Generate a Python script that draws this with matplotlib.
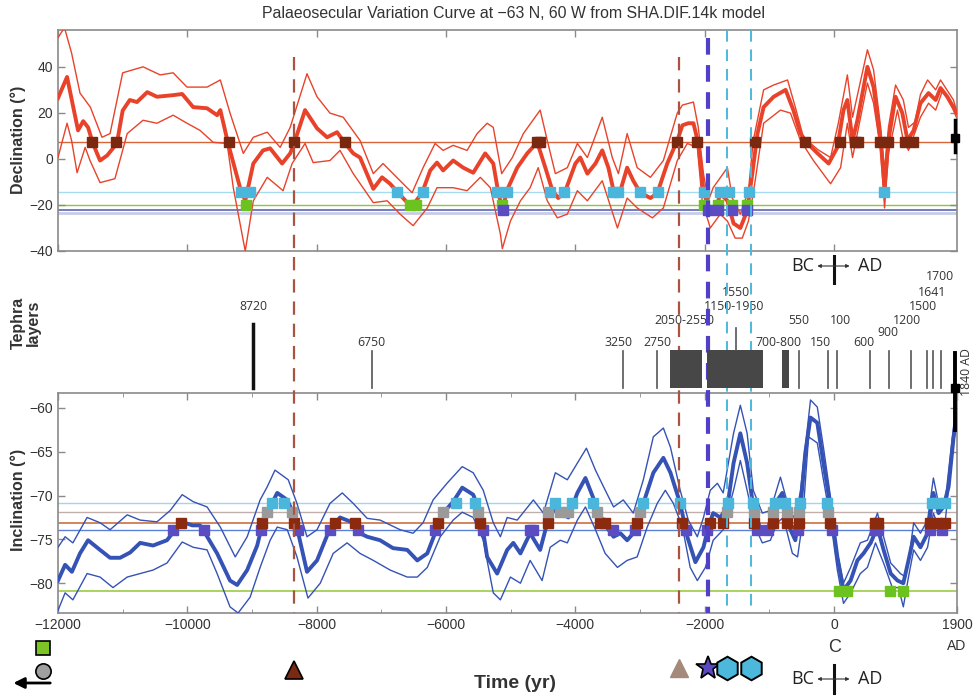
import matplotlib
matplotlib.use("Agg")
import matplotlib.pyplot as plt

plt.rcParams['font.family'] = ['Liberation Sans', 'DejaVu Sans']

# ---------------- data ----------------
dec_mean = [(-12000, 26.4), (-11860, 35.6), (-11690, 12.4), (-11610, 16.4), (-11535, 13.7), (-11460, 6.7),
            (-11350, -0.7), (-11240, 1.5), (-11090, 6.7), (-11000, 21), (-10890, 25.6), (-10780, 24.7),
            (-10620, 29), (-10470, 27), (-10220, 27.7), (-10080, 28.2), (-9910, 22.5), (-9695, 22),
            (-9540, 19), (-9490, 21.2), (-9370, 6.7), (-9185, -12.5), (-9105, -18.2), (-8980, -2),
            (-8830, 3.7), (-8720, 4.6), (-8535, -2), (-8410, 2.4), (-8350, 6.7), (-8180, 21.2),
            (-7995, 13.3), (-7840, 9.4), (-7685, 11.6), (-7560, 6.7), (-7435, 2.4), (-7330, 0.6),
            (-7125, -13), (-6990, -8), (-6865, -10.8), (-6740, -14.7), (-6600, -19), (-6510, -20),
            (-6370, -14.7), (-6245, -5), (-6140, -1.6), (-6045, -5), (-5890, -0.7), (-5735, -3.8),
            (-5580, -6), (-5395, 2.4), (-5270, -2), (-5190, -15), (-5130, -21.5), (-5040, -12.5),
            (-4900, -3.8), (-4745, 2.4), (-4590, 7.2), (-4465, -3.8), (-4355, -13.8), (-4265, -17),
            (-4155, -13.8), (-4000, -2), (-3925, 0.6), (-3815, -6.4), (-3690, -2), (-3585, 3.7),
            (-3490, -3.8), (-3410, -13.8), (-3305, -13.8), (-3200, -3.8), (-3105, -9.5), (-2995, -14.7),
            (-2840, -17), (-2735, -15), (-2580, -2), (-2425, 8), (-2345, 14.6), (-2255, 15.5),
            (-2175, 15.5), (-2100, 6.7), (-2020, -13.8), (-1915, -24), (-1835, -22.6), (-1760, -15),
            (-1650, -18.2), (-1555, -28), (-1450, -30), (-1345, -22.6), (-1265, -6.4), (-1185, 11),
            (-1090, 22.5), (-935, 27), (-750, 30), (-630, 21.2), (-520, 11), (-410, 6.7), (-255, 2.4),
            (-85, -2), (50, 5), (145, 21.2), (205, 25.6), (285, 8), (360, 16.8), (515, 40), (610, 31.2),
            (720, 8), (780, -12.5), (840, 8), (950, 27), (1055, 19.9), (1135, 8), (1230, 12.4),
            (1335, 24.2), (1460, 28.6), (1570, 25.6), (1645, 30.8), (1750, 27), (1845, 22.5), (1890, 19.9)]

dec_upper = [(-12000, 52.7), (-11900, 57), (-11790, 46), (-11660, 28.6), (-11500, 22.5), (-11320, 9.4),
             (-11195, 11), (-11000, 37.4), (-10685, 40), (-10420, 36.5), (-10220, 37.4), (-10005, 31.2),
             (-9695, 31.2), (-9490, 34.3), (-9340, 19.9), (-9135, 2.4), (-8980, 9.4), (-8765, 11.6),
             (-8565, 5), (-8410, 13.7), (-8150, 37), (-7995, 27), (-7795, 19.9), (-7590, 18.1),
             (-7330, 8), (-7125, -6.4), (-6975, -2), (-6710, -9.5), (-6525, -14.7), (-6355, -3.8),
             (-6170, 6.7), (-6045, 3.7), (-5890, 5.9), (-5675, 3.7), (-5520, 11), (-5365, 15.5),
             (-5270, 13.7), (-5140, -6.4), (-4975, 0.6), (-4805, 11), (-4545, 21.2), (-4435, 8),
             (-4310, -6.4), (-4125, -3.8), (-3970, 6.7), (-3815, 0.6), (-3585, 18.1), (-3430, 0.6),
             (-3335, -6.4), (-3200, 11), (-3045, -3.8), (-2840, -8), (-2640, -0.7), (-2425, 19.9),
             (-2345, 23.4), (-2175, 24.7), (-2100, 13.7), (-2020, -6.4), (-1945, -18.2), (-1870, -12.5),
             (-1650, -3.8), (-1575, -17), (-1450, -24), (-1325, -13.8), (-1250, 8), (-1090, 30),
             (-935, 32.1), (-720, 34.3), (-600, 22.5), (-475, 9.4), (-250, 4.0), (-55, 0.6), (65, 15.5),
             (205, 36.5), (285, 18.1), (515, 47.4), (610, 38.7), (720, 13.7), (780, -5), (840, 13.7),
             (950, 32.1), (1070, 25.6), (1150, 13.7), (1250, 16), (1335, 28), (1445, 34.3), (1570, 30),
             (1645, 34.3), (1845, 25.6), (1890, 21.2)]

dec_lower = [(-12000, 0.6), (-11860, 15.5), (-11790, 8), (-11705, -6), (-11580, 5), (-11505, -0.7),
             (-11350, -10.3), (-11120, -8.6), (-10930, 11), (-10685, 16.8), (-10470, 15.5), (-10220, 19),
             (-10005, 15.5), (-9805, 12.4), (-9600, 7.2), (-9385, 6.7), (-9290, -12.5), (-9105, -40),
             (-8980, -18.2), (-8765, -8), (-8520, -13.8), (-8380, -2), (-8180, 6.7), (-8055, -1.6),
             (-7795, -0.7), (-7640, 3.7), (-7435, -6.4), (-7125, -19), (-6910, -18.2), (-6710, -24),
             (-6510, -29), (-6290, -21.3), (-6140, -12.5), (-5890, -12.5), (-5675, -13.8), (-5470, -8),
             (-5315, -12.5), (-5160, -32.6), (-5130, -39), (-5005, -27), (-4850, -18.2), (-4700, -12.5),
             (-4575, -3.8), (-4435, -18.2), (-4280, -25.6), (-4125, -24), (-3970, -13.8), (-3815, -18.2),
             (-3585, -9.5), (-3350, -30), (-3200, -17), (-3045, -21.3), (-2810, -25.6), (-2640, -21.3),
             (-2425, -0.7), (-2270, 6.7), (-2115, 5), (-2040, -18.2), (-1915, -30), (-1760, -24),
             (-1650, -27), (-1530, -34.4), (-1420, -34.4), (-1325, -27), (-1250, -15), (-1090, 15.5),
             (-830, 21.2), (-675, 19.9), (-520, 8), (-320, -0.7), (-55, -10.8), (100, -3.8), (205, 15.5),
             (285, 0.6), (515, 33), (610, 24.2), (720, 3.7), (780, -21.3), (840, 2.4), (980, 21.2),
             (1070, 8), (1150, 3.7), (1335, 18.1), (1460, 24.2), (1570, 21.2), (1680, 30), (1845, 21.2),
             (1890, 18.1)]

inc_mean = [(-12000, -79.7), (-11890, -77.9), (-11785, -78.7), (-11660, -76.6), (-11535, -75.1),
            (-11350, -76.2), (-11195, -77.1), (-11040, -77.1), (-10885, -76.5), (-10730, -75.4),
            (-10530, -75.7), (-10315, -75.1), (-10220, -74.2), (-10080, -73), (-9925, -73.4),
            (-9805, -73.4), (-9725, -74.3), (-9540, -76.6), (-9340, -79.7), (-9230, -80.2),
            (-9075, -78.5), (-8920, -75.7), (-8830, -73), (-8750, -71.7), (-8610, -69.7), (-8455, -70.5),
            (-8365, -72), (-8285, -74.3), (-8150, -78.7), (-7995, -77.4), (-7825, -74.3), (-7640, -72.5),
            (-7435, -73.1), (-7330, -74.3), (-7220, -74.7), (-7020, -75.1), (-6820, -76), (-6600, -76.2),
            (-6445, -77.4), (-6290, -76.6), (-6170, -74.3), (-6045, -72), (-5890, -70.7), (-5750, -69.1),
            (-5580, -69.9), (-5470, -72), (-5365, -77), (-5210, -78.9), (-5055, -76.2), (-4960, -75.4),
            (-4850, -76.6), (-4700, -74.3), (-4545, -76.2), (-4435, -73.1), (-4310, -71.3), (-4205, -72),
            (-4110, -72.5), (-3970, -69.7), (-3845, -68), (-3690, -70.9), (-3565, -73.1), (-3410, -74.7),
            (-3305, -74.3), (-3200, -75.1), (-3105, -74.3), (-3030, -72.8), (-2950, -70.9),
            (-2795, -67.4), (-2640, -65.7), (-2530, -67.4), (-2380, -70.9), (-2270, -74.7),
            (-2145, -77.6), (-2020, -75.9), (-1945, -73.6), (-1870, -72), (-1760, -72.5), (-1650, -71.3),
            (-1555, -66.3), (-1450, -62.9), (-1345, -66.3), (-1250, -71.3), (-1140, -73.9),
            (-1015, -73.6), (-910, -70.9), (-800, -69.7), (-675, -73.9), (-600, -75.1), (-520, -71.3),
            (-445, -65.1), (-365, -61.1), (-260, -61.7), (-165, -66.3), (-55, -71.3), (50, -77),
            (145, -80.8), (255, -79.7), (360, -77.4), (455, -76.6), (565, -75.4), (670, -73.6),
            (765, -76.2), (875, -78.9), (980, -79.7), (1070, -80), (1150, -77.4), (1230, -74.7),
            (1335, -75.9), (1445, -74.3), (1535, -69.7), (1615, -72), (1690, -71.3), (1770, -69),
            (1845, -63.5), (1890, -61.2)]

inc_upper = [(-12000, -75.9), (-11890, -74.7), (-11770, -75.4), (-11550, -72.5), (-11350, -73.1),
             (-11195, -73.9), (-10930, -72.2), (-10730, -72.8), (-10470, -73), (-10265, -71.7),
             (-10080, -69.9), (-9910, -70.7), (-9695, -71.3), (-9490, -73.6), (-9260, -77), (-9075, -74.7),
             (-8875, -70.5), (-8765, -69), (-8645, -67.1), (-8440, -68.2), (-8305, -70.9), (-8150, -74.7),
             (-7995, -73.9), (-7795, -70.9), (-7605, -69.7), (-7435, -70.9), (-7220, -72.6),
             (-7020, -72.8), (-6710, -73.9), (-6510, -74.3), (-6355, -73.1), (-6200, -70.5),
             (-5985, -68.6), (-5750, -66.7), (-5580, -67.4), (-5425, -69.4), (-5270, -73.1),
             (-5160, -74.7), (-5055, -72.5), (-4900, -72.8), (-4650, -70.5), (-4495, -72), (-4310, -67.4),
             (-4125, -68.2), (-3970, -66.3), (-3830, -64.6), (-3690, -67.1), (-3565, -69), (-3410, -71.3),
             (-3260, -70.5), (-3105, -72), (-2950, -68.2), (-2795, -63.3), (-2640, -62.3), (-2530, -64.5),
             (-2380, -69.4), (-2255, -72.8), (-2115, -74.7), (-2020, -72.5), (-1915, -69.4),
             (-1805, -68.6), (-1715, -69.7), (-1555, -62.9), (-1450, -59.7), (-1345, -62.9),
             (-1250, -69.4), (-1110, -72), (-985, -71.7), (-830, -67.9), (-705, -71.3), (-600, -72.8),
             (-520, -69.4), (-365, -59.1), (-260, -59.9), (-165, -64.5), (-55, -70.2), (50, -76.6),
             (145, -80), (255, -78.2), (405, -75.4), (515, -75.1), (670, -72), (765, -74.7), (875, -77.7),
             (1025, -78.9), (1105, -79.3), (1180, -75.9), (1230, -73.1), (1335, -74.3), (1445, -72.8),
             (1535, -68), (1615, -70.9), (1720, -70.5), (1845, -62.2), (1890, -60.6)]

inc_lower = [(-12000, -83.1), (-11890, -81.1), (-11770, -81.9), (-11550, -78.9), (-11350, -79.3),
             (-11150, -80.5), (-10930, -79.3), (-10730, -78.9), (-10530, -78.5), (-10315, -77.7),
             (-10080, -75.3), (-9910, -75.9), (-9695, -76.2), (-9540, -78.9), (-9340, -82.7),
             (-9215, -83.4), (-9030, -81.6), (-8875, -78.2), (-8720, -75.1), (-8610, -73.6),
             (-8455, -73.9), (-8305, -77), (-8135, -81.7), (-7945, -80), (-7745, -76.6), (-7530, -75.4),
             (-7330, -76.6), (-7125, -77.4), (-6865, -78.5), (-6600, -79.3), (-6445, -79.3),
             (-6290, -78.2), (-6090, -74.7), (-5890, -72.8), (-5750, -71.9), (-5580, -72.5),
             (-5425, -75.1), (-5270, -81.1), (-5160, -81.9), (-5005, -79.3), (-4850, -80), (-4700, -77.4),
             (-4515, -79.7), (-4390, -75.9), (-4235, -75.1), (-4125, -75.4), (-3970, -72.8),
             (-3845, -71.3), (-3690, -73.9), (-3540, -76.6), (-3350, -78.2), (-3200, -77.4), (-3045, -77),
             (-2890, -73.6), (-2735, -70.9), (-2610, -69.4), (-2485, -70.9), (-2345, -73.6),
             (-2225, -78.2), (-2115, -79.7), (-1990, -78.2), (-1870, -75.1), (-1715, -73.9),
             (-1555, -69.4), (-1450, -66), (-1345, -69.4), (-1220, -73.6), (-1110, -75.4), (-985, -75.1),
             (-880, -73.1), (-785, -72.5), (-645, -76.6), (-565, -77), (-490, -73.1), (-395, -63.3),
             (-260, -64), (-165, -68.2), (-55, -72.8), (50, -78.5), (145, -82.3), (255, -81.1),
             (405, -78.9), (515, -78.2), (640, -75.4), (765, -77.7), (900, -80.5), (995, -80.5),
             (1070, -82.7), (1150, -79.3), (1230, -76.2), (1335, -77.4), (1445, -75.9), (1535, -72),
             (1615, -73.6), (1720, -72.8), (1845, -63.7), (1890, -61.7)]

# reference levels and crossing markers
dec_levels = {"brown": 7.2, "cyan": -14.3, "green": -20.0, "purple": -22.1, "lavender": -23.4}
dec_brown_t = [-11474, -11103, -9355, -8350, -7560, -4600, -4540, -2424, -2115, -1217, -444, 97,
               329, 376, 716, 840, 1102, 1226]
dec_cyan_t = [-9169, -9030, -6756, -6354, -5209, -5054, -4389, -4172, -3414, -3337, -2997, -2718,
              -2006, -1759, -1619, -1310, 778]
dec_green_t = [-9092, -6560, -6470, -5131, -2006, -1790, -1573, -1341]
dec_purple_t = [-5116, -1946, -1790, -1573, -1341]

inc_levels = {"cyan": -70.8, "grey": -71.9, "brown": -73.1, "purple": -73.9, "green": -80.9}
inc_purple_t = [-10221, -9742, -8860, -8287, -7792, -7359, -6168, -5425, -4698, -4652, -3414, -3074,
                -2285, -1960, -1187, -1017, -553, -27, 638, 685, 1490, 1675]
inc_brown_t = [-10097, -8844, -8349, -7715, -7406, -6122, -5472, -4420, -3615, -3538, -3043, -2347,
               -1914, -1713, -1233, -939, -722, -537, -57, 638, 685, 1490, 1598, 1722]
inc_grey_t = [-8767, -8380, -6044, -5503, -4420, -4234, -4110, -3662, -2997, -1651, -1233, -939,
              -722, -537, -88]
inc_cyan_t = [-8689, -8504, -5843, -5549, -4311, -4049, -3724, -2950, -2378, -1635, -1248, -908,
              -753, -521, -104, 1521, 1598, 1722]
inc_green_t = [82, 205, 870, 1070]

# tephra layers
tephra_t = [-7142, -3259, -2734, -537, -88, 50, 562, 856, 1196, 1443, 1536, 1660]
tephra_labels = ["6750", "3250", "2750", "550", "150", "100", "600", "900", "1200", "1500", "1641", "1700"]
tephra_label_t = [-7160, -3330, -2740, -550, -210, 100, 460, 830, 1130, 1380, 1520, 1630]
tephra_label_row = [343, 343, 343, 320, 343, 320, 343, 332, 320, 306, 293, 277]
tephra_boxes = [(-2532, -2037), (-1960, -1094), (-800, -690)]
tephra_box_labels = ["2050-2550", "1150-1950", "700-800"]
tephra_box_label_t = [-2320, -1540, -860]
tephra_box_label_row = [320, 306, 343]

event_t = [-8350, -2400, -1950, -1650, -1280]

# ---------------- style ----------------
RED = "#e8432a"
BLUE = "#3552b5"
C_BROWN = "#7a2810"
C_CYAN = "#4bb6dc"
C_GREEN = "#6cc21e"
C_PURPLE = "#5b4cc2"
C_GREY = "#9a9a9a"
SPINE = "#8a8a8a"
TXT = "#333333"

W, H = 976, 697
fig = plt.figure(figsize=(W / 100, H / 100), dpi=100)
L = 58 / W
AW = (957 - 58) / W


def fpos(top, bottom):
    return [L, 1 - bottom / H, AW, (bottom - top) / H]


def style_axes(ax):
    for s in ax.spines.values():
        s.set_color(SPINE)
        s.set_linewidth(1.2)
    ax.tick_params(direction="in", length=5, color=SPINE, labelcolor=TXT, labelsize=10,
                   top=True, right=True, width=1.0)
    ax.tick_params(which="minor", direction="in", length=3, color=SPINE, top=True)


def unzip(pairs):
    return [p[0] for p in pairs], [p[1] for p in pairs]


XMIN, XMAX = -12000, 1900

# ---------------- declination ----------------
ax1 = fig.add_axes(fpos(30, 251))
style_axes(ax1)
ax1.set_xlim(XMIN, XMAX)
ax1.set_ylim(-40, 56)
ax1.set_xticks(range(-12000, 1, 2000))
ax1.set_xticklabels([])
ax1.set_yticks([40, 20, 0, -20, -40])
ax1.set_yticklabels(["40", "20", "0", "\u221220", "\u221240"])

ax1.axhline(dec_levels["lavender"], color="#c8cce6", lw=2.0, zorder=1)
ax1.axhline(dec_levels["purple"], color="#5866b4", lw=1.2, zorder=1)
ax1.axhline(dec_levels["green"], color="#8cc63f", lw=1.0, zorder=1)
ax1.axhline(dec_levels["cyan"], color="#a6dcf0", lw=1.0, zorder=1)
ax1.axhline(dec_levels["brown"], color="#d8643a", lw=1.0, zorder=1)

for curve, lw in ((dec_upper, 1.0), (dec_lower, 1.0), (dec_mean, 2.8)):
    t, v = unzip(curve)
    ax1.plot(t, v, color=RED, lw=lw, zorder=3, solid_joinstyle="round")

for ts, key, col in ((dec_brown_t, "brown", C_BROWN), (dec_cyan_t, "cyan", C_CYAN),
                     (dec_green_t, "green", C_GREEN), (dec_purple_t, "purple", C_PURPLE)):
    ax1.plot(ts, [dec_levels[key]] * len(ts), ls="none", marker="s", ms=6.5, color=col, zorder=5)

# present-day bar at the right edge
ax1.plot([1870, 1870], [2.8, 16.8], color="black", lw=2.5, zorder=6, clip_on=False)
ax1.plot([1870], [9], marker="s", ms=6, color="black", zorder=6, clip_on=False)

# ---------------- inclination ----------------
ax2 = fig.add_axes(fpos(393, 613))
style_axes(ax2)
ax2.set_xlim(XMIN, XMAX)
ax2.set_ylim(-83.4, -58.3)
ax2.set_xticks(list(range(-12000, 1, 2000)) + [1900])
ax2.set_xticklabels(["\u221212000", "\u221210000", "\u22128000", "\u22126000", "\u22124000",
                     "\u22122000", "0", "1900"])
ax2.set_xticks(range(-11000, 0, 2000), minor=True)
ax2.set_yticks([-60, -65, -70, -75, -80])
ax2.set_yticklabels(["\u221260", "\u221265", "\u221270", "\u221275", "\u221280"])

ax2.axhline(inc_levels["green"], color="#9ccc44", lw=1.2, zorder=1)
ax2.axhline(inc_levels["purple"], color="#5a80d8", lw=1.0, zorder=1)
ax2.axhline(inc_levels["brown"], color="#d07040", lw=1.2, zorder=1)
ax2.axhline(inc_levels["grey"], color="#c0b0ac", lw=1.0, zorder=1)
ax2.axhline(inc_levels["cyan"], color="#9ad8ef", lw=1.0, zorder=1)

for curve, lw in ((inc_upper, 1.0), (inc_lower, 1.0), (inc_mean, 2.8)):
    t, v = unzip(curve)
    ax2.plot(t, v, color=BLUE, lw=lw, zorder=3, solid_joinstyle="round")

for ts, key, col in ((inc_purple_t, "purple", C_PURPLE), (inc_brown_t, "brown", "#8c2a10"),
                     (inc_grey_t, "grey", C_GREY), (inc_cyan_t, "cyan", C_CYAN),
                     (inc_green_t, "green", C_GREEN)):
    ax2.plot(ts, [inc_levels[key]] * len(ts), ls="none", marker="s", ms=6.5, color=col, zorder=5)

# ---------------- overlay (pixel rows) ----------------
ov = fig.add_axes([L, 0, AW, 1], facecolor="none")
ov.set_xlim(XMIN, XMAX)
ov.set_ylim(H, 0)
ov.axis("off")

# event dashed lines
ov.plot([event_t[0]] * 2, [57, 613], color="#a85440", lw=1.6, ls=(0, (6, 4)), zorder=4)
ov.plot([event_t[1]] * 2, [57, 613], color="#a85440", lw=1.6, ls=(0, (6, 4)), zorder=4)
ov.plot([event_t[2]] * 2, [38, 613], color="#5040c8", lw=3.0, ls=(0, (4, 2.5)), zorder=4)
ov.plot([event_t[3]] * 2, [30, 613], color="#4cb8dc", lw=1.4, ls=(0, (6, 4)), zorder=4)
ov.plot([event_t[4]] * 2, [30, 613], color="#4cb8dc", lw=1.4, ls=(0, (6, 4)), zorder=4)

# tephra layers
TF = dict(fontsize=8.8, color="#333333", ha="center", va="center", family=["Open Sans", "DejaVu Sans"])
for t, lab, lt, row in zip(tephra_t, tephra_labels, tephra_label_t, tephra_label_row):
    ov.plot([t, t], [351, 388], color="#555555", lw=1.2, zorder=5)
    ov.text(lt, row, lab, **TF)
for (a, b), lab, lt, row in zip(tephra_boxes, tephra_box_labels, tephra_box_label_t, tephra_box_label_row):
    ov.fill_between([a, b], [350, 350], [388, 388], color="#474747", lw=0, zorder=5)
    ov.text(lt, row, lab, **TF)
# 1550 marker above the big box
ov.plot([-1510, -1510], [328, 350], color="#555555", lw=1.2, zorder=5)
ov.text(-1520, 293, "1550", **TF)
# 8720 thick layer
ov.plot([-8983, -8983], [324, 388], color="#111111", lw=2.5, zorder=5)
ov.text(-8983, 307, "8720", **TF)
# 1840 AD
ov.plot([1862, 1862], [353, 430], color="black", lw=2.8, zorder=6, clip_on=False)
ov.plot([1862], [388], marker="s", ms=6, color="black", zorder=6, clip_on=False)
ov.text(2050, 372, "1840 AD", rotation=90, fontsize=8.8, ha="center", va="center", color="#333333",
        family=["Open Sans", "DejaVu Sans"], clip_on=False)

# BC / AD indicators
for row, tick in ((266, (256, 283)), (679, (665, 693))):
    ov.text(-480, row, "BC", fontsize=13, ha="center", va="center", color="#222222",
            family=["Open Sans", "DejaVu Sans"])
    ov.text(560, row, "AD", fontsize=13, ha="center", va="center", color="#222222",
            family=["Open Sans", "DejaVu Sans"])
    for end in (-260, 240):
        ov.annotate("", xy=(end, row), xytext=(0, row),
                    arrowprops=dict(arrowstyle="-|>", color="#333333", lw=0.8, mutation_scale=5,
                                    shrinkA=0, shrinkB=0))
    ov.plot([0, 0], list(tick), color="#111111", lw=2.2)

ov.text(0, 648, "C", fontsize=13, ha="center", va="center", color="#333333")
ov.text(1900, 646, "AD", fontsize=10, ha="center", va="center", color="#333333", clip_on=False)

# event symbols
ov.plot([event_t[0]], [670], marker="^", ms=13, color="#7a2a12", mec="black", mew=1.2, clip_on=False)
ov.plot([event_t[1]], [668], marker="^", ms=13, color="#a58a7c", mec="#a58a7c", clip_on=False)
ov.plot([event_t[2]], [668], marker="*", ms=18, color="#5a48c0", mec="black", mew=1.2, clip_on=False)
ov.plot([event_t[3]], [668], marker="h", ms=17, color="#4bb8dc", mec="black", mew=1.4, clip_on=False)
ov.plot([event_t[4]], [668], marker="h", ms=17, color="#4bb8dc", mec="black", mew=1.4, clip_on=False)

# legend-like symbols at bottom-left
ov.plot([-12232], [648], marker="s", ms=10, color="#7cc427", mec="black", mew=1.2, clip_on=False)
ov.plot([-12232], [671], marker="o", ms=11, color="#a0a0a0", mec="black", mew=1.2, clip_on=False)
ov.annotate("", xy=(-12690, 683), xytext=(-12120, 683),
            arrowprops=dict(arrowstyle="-|>", color="black", lw=2.0, mutation_scale=16,
                            shrinkA=0, shrinkB=0),
            annotation_clip=False)

# ---------------- labels ----------------
fig.text(514 / W, 1 - 14 / H, "Palaeosecular Variation Curve at \u221263 N, 60 W from SHA.DIF.14k model",
         ha="center", va="center", fontsize=11.4, color="#333333")
fig.text(18 / W, 1 - 140 / H, "Declination (\u00b0)", rotation=90, ha="center", va="center",
         fontsize=11.5, fontweight="bold", color="#333333")
fig.text(18 / W, 1 - 500 / H, "Inclination (\u00b0)", rotation=90, ha="center", va="center",
         fontsize=11.5, fontweight="bold", color="#333333")
fig.text(26 / W, 1 - 323 / H, "Tephra\nlayers", rotation=90, ha="center", va="center",
         fontsize=11.5, fontweight="bold", color="#333333", linespacing=1.0)
fig.text(515 / W, 1 - 683 / H, "Time (yr)", ha="center", va="center",
         fontsize=14, fontweight="bold", color="#333333")

fig.savefig("out.png", dpi=100)
